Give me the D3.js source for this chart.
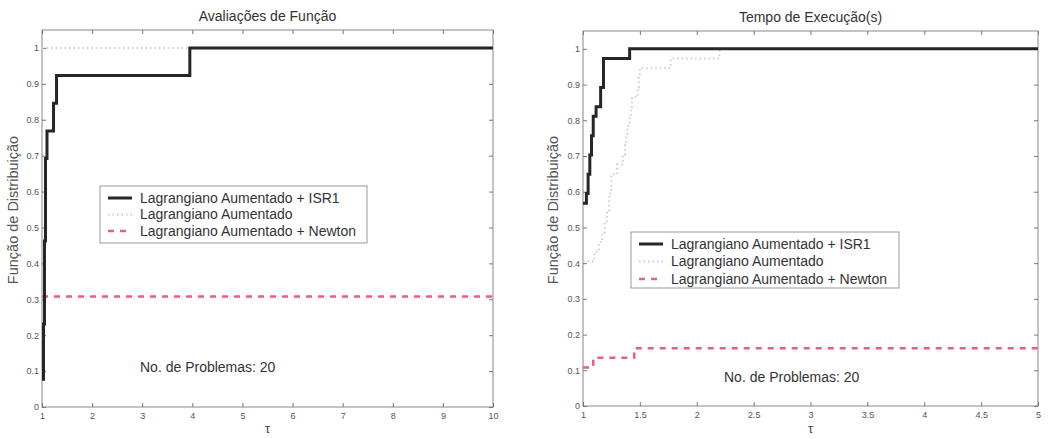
<!DOCTYPE html>
<meta charset="utf-8">
<title>perfis de desempenho</title>
<style>
body { margin: 0; background: #fff; }
svg { font-family: "Liberation Sans", Arial, sans-serif; }
.axis .domain { display: none; }
.axis line { stroke: #777; }
.axis text { fill: #555; font-size: 9px; }
</style>
<svg width="1060" height="439"></svg>
<script src="https://d3js.org/d3.v7.min.js"></script>
<script>
// performance profiles, [tau, fraction] step points
var evalISR1   = [[1.0,0.077],[1.03,0.231],[1.05,0.462],[1.07,0.692],[1.1,0.769],[1.23,0.846],[1.29,0.923],[3.95,1.0],[10,1.0]];
var evalLA     = [[1.0,1.0],[10,1.0]];
var evalNewton = [[1.0,0.308],[10,0.308]];

var timeISR1   = [[1.0,0.568],[1.03,0.595],[1.045,0.649],[1.06,0.703],[1.075,0.757],[1.09,0.811],[1.115,0.838],[1.155,0.892],[1.18,0.973],[1.41,1.0],[5,1.0]];
var timeLA     = [[1.0,0.405],[1.1,0.432],[1.14,0.459],[1.17,0.486],[1.19,0.514],[1.21,0.541],[1.23,0.595],[1.25,0.649],[1.3,0.676],[1.35,0.703],[1.37,0.73],[1.38,0.757],[1.39,0.784],[1.41,0.811],[1.42,0.838],[1.43,0.865],[1.48,0.892],[1.49,0.919],[1.5,0.946],[1.77,0.973],[2.2,1.0],[5,1.0]];
var timeNewton = [[1.0,0.108],[1.09,0.135],[1.45,0.162],[5,0.162]];

var seriesNames = ["Lagrangiano Aumentado + ISR1", "Lagrangiano Aumentado", "Lagrangiano Aumentado + Newton"];
var yTicks = [0,0.1,0.2,0.3,0.4,0.5,0.6,0.7,0.8,0.9,1];
var evalXTicks = [1,2,3,4,5,6,7,8,9,10];
var timeXTicks = [1,1.5,2,2.5,3,3.5,4,4.5,5];

var styles = [
  {stroke: "#262626", width: 3, dash: null},
  {stroke: "#c3cfdb", width: 2, dash: "1.5,3"},
  {stroke: "#e4607e", width: 2.5, dash: "6,6"}
];

var svg = d3.select("svg");

function panel(opt) {
  var x = d3.scaleLinear().domain(opt.xDomain).range([opt.left, opt.right]);
  var y = d3.scaleLinear().domain([0, 1.05]).range([opt.bottom, opt.top]);
  var g = svg.append("g");

  g.append("rect")
    .attr("x", opt.left).attr("y", opt.top)
    .attr("width", opt.right - opt.left).attr("height", opt.bottom - opt.top)
    .attr("fill", "#fff").attr("stroke", "#888").attr("stroke-width", 1);

  g.append("g").attr("class", "axis")
    .attr("transform", "translate(0," + opt.bottom + ")")
    .call(d3.axisBottom(x).tickValues(opt.xTicks).tickSizeInner(-4).tickSizeOuter(0).tickPadding(6)
      .tickFormat(d3.format("~g")));
  g.append("g").attr("class", "axis")
    .attr("transform", "translate(0," + opt.top + ")")
    .call(d3.axisTop(x).tickValues(opt.xTicks).tickSizeInner(-4).tickSizeOuter(0).tickFormat(""));
  g.append("g").attr("class", "axis")
    .attr("transform", "translate(" + opt.left + ",0)")
    .call(d3.axisLeft(y).tickValues(yTicks).tickSizeInner(-4).tickSizeOuter(0).tickPadding(3)
      .tickFormat(d3.format("~g")));
  g.append("g").attr("class", "axis")
    .attr("transform", "translate(" + opt.right + ",0)")
    .call(d3.axisRight(y).tickValues(yTicks).tickSizeInner(-4).tickSizeOuter(0).tickFormat(""));

  var line = d3.line()
    .x(function(d) { return x(d[0]); })
    .y(function(d) { return y(d[1]); })
    .curve(d3.curveStepAfter);

  // draw light dotted first, then red, then black on top
  [1, 2, 0].forEach(function(i) {
    g.append("path")
      .datum(opt.series[i])
      .attr("d", line)
      .attr("fill", "none")
      .attr("stroke", styles[i].stroke)
      .attr("stroke-width", styles[i].width)
      .attr("stroke-dasharray", styles[i].dash);
  });

  var cx = (opt.left + opt.right) / 2;
  g.append("text").attr("x", cx).attr("y", opt.top - 9)
    .attr("text-anchor", "middle").attr("font-size", 14).attr("fill", "#333")
    .text(opt.title);
  g.append("text").attr("x", cx).attr("y", 433)
    .attr("text-anchor", "middle").attr("font-size", 13).attr("fill", "#444")
    .text("τ");
  g.append("text")
    .attr("transform", "translate(" + opt.ylabelX + ",210) rotate(-90)")
    .attr("text-anchor", "middle").attr("font-size", 14.5).attr("fill", "#555")
    .text("Função de Distribuição");

  g.append("text").attr("x", opt.noteX).attr("y", opt.noteY)
    .attr("font-size", 14).attr("fill", "#333")
    .text("No. de Problemas: 20");

  // legend
  var lg = g.append("g").attr("transform", "translate(" + opt.legX + "," + opt.legY + ")");
  lg.append("rect").attr("width", opt.legW).attr("height", opt.legH)
    .attr("fill", "#fff").attr("stroke", "#999").attr("stroke-width", 1);
  seriesNames.forEach(function(name, i) {
    var ry = 12 + i * opt.legStep;
    lg.append("line").attr("x1", 8).attr("x2", 32).attr("y1", ry).attr("y2", ry)
      .attr("stroke", styles[i].stroke).attr("stroke-width", styles[i].width)
      .attr("stroke-dasharray", styles[i].dash);
    lg.append("text").attr("x", 40).attr("y", ry).attr("dy", "0.35em")
      .attr("font-size", 14).attr("fill", "#333")
      .text(name);
  });
}

panel({
  left: 42, right: 493, top: 30, bottom: 407,
  xDomain: [1, 10], xTicks: evalXTicks,
  series: [evalISR1, evalLA, evalNewton],
  title: "Avaliações de Função",
  ylabelX: 18, noteX: 140, noteY: 372,
  legX: 100, legY: 186, legW: 267, legH: 57, legStep: 16.5
});

panel({
  left: 583, right: 1038, top: 31, bottom: 406,
  xDomain: [1, 5], xTicks: timeXTicks,
  series: [timeISR1, timeLA, timeNewton],
  title: "Tempo de Execução(s)",
  ylabelX: 558, noteX: 724, noteY: 382,
  legX: 631, legY: 232, legW: 268, legH: 56, legStep: 17.5
});
</script>
